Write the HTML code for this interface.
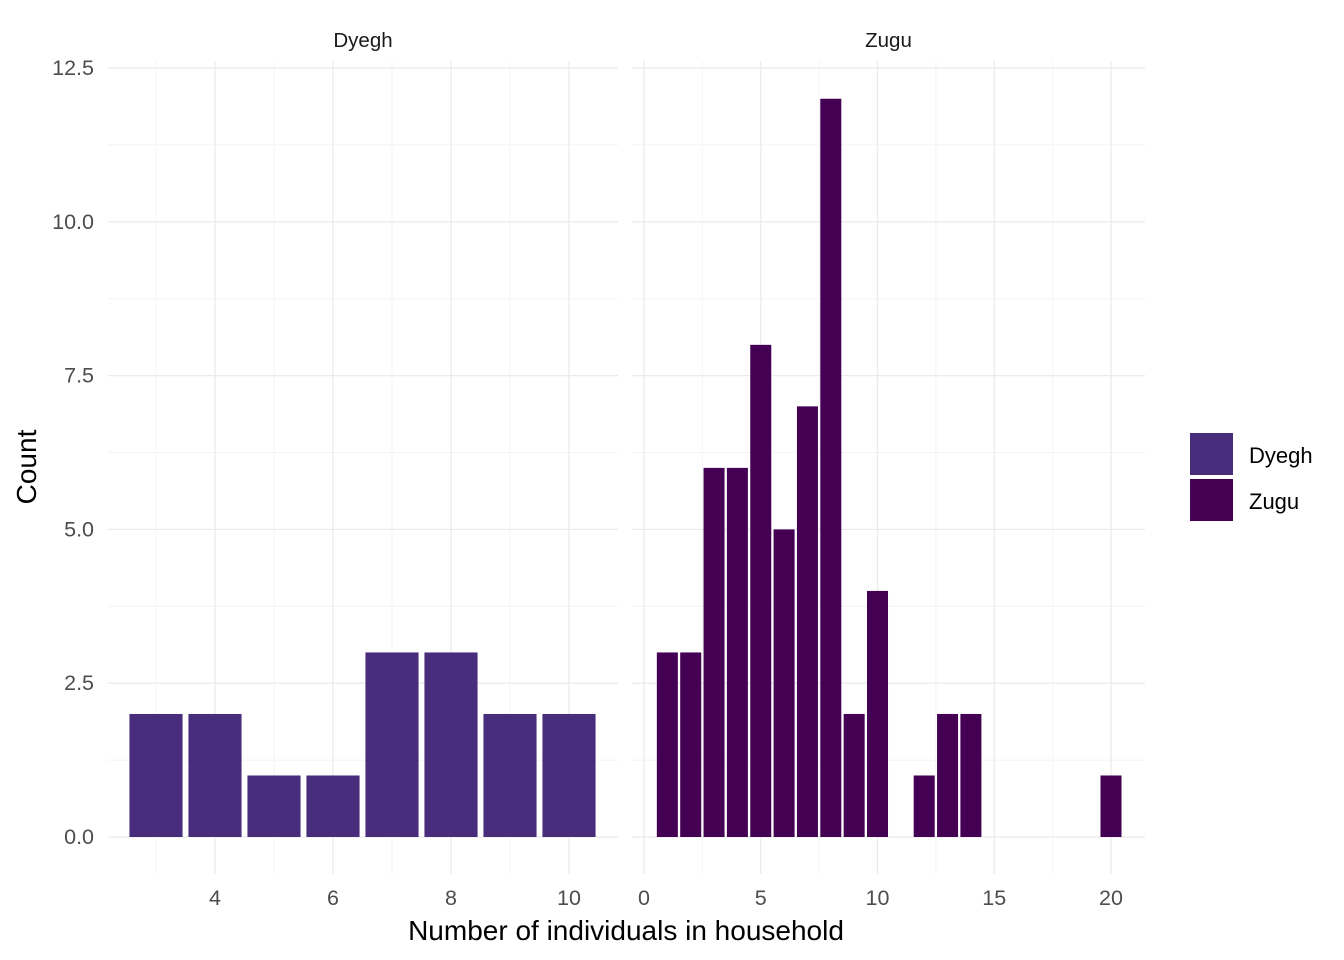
<!DOCTYPE html>
<html><head><meta charset="utf-8"><style>body{margin:0;background:#fff}svg{display:block;font-family:"Liberation Sans",Arial,sans-serif}</style></head>
<body>
<svg id="chart" width="1344" height="960"></svg>
<script>
const dyeghX=[3,4,5,6,7,8,9,10];
const dyeghCount=[2,2,1,1,3,3,2,2];
const zuguX=[1,2,3,4,5,6,7,8,9,10,12,13,14,20];
const zuguCount=[3,3,6,6,8,5,7,12,2,4,1,2,2,1];
const yTicks=[0,2.5,5,7.5,10,12.5];
const yTickLabels=["0.0","2.5","5.0","7.5","10.0","12.5"];
const leftTicks=[4,6,8,10];
const rightTicks=[0,5,10,15,20];
const NS="http://www.w3.org/2000/svg";
const svg=document.getElementById('chart');
function mk(t,a,p){const e=document.createElementNS(NS,t);for(const k in a)e.setAttribute(k,a[k]);(p||svg).appendChild(e);return e;}
const y=v=>837-v*61.52;
const panels=[
 {name:'dyegh',x0:108,x1:618,sx:v=>215+(v-4)*59,unit:59,xs:dyeghX,cs:dyeghCount,ticks:leftTicks,minor:[3,5,7,9],color:'#472D7B',title:'Dyegh'},
 {name:'zugu',x0:632,x1:1145,sx:v=>644+v*23.35,unit:23.35,xs:zuguX,cs:zuguCount,ticks:rightTicks,minor:[2.5,7.5,12.5,17.5],color:'#440154',title:'Zugu'}
];
panels.forEach(p=>{
 const g=mk('g',{});
 
 
 for(let i=0;i<yTicks.length-1;i++){const v=(yTicks[i]+yTicks[i+1])/2;const l=mk('line',{x1:p.x0,x2:p.x1,y1:y(v),y2:y(v),stroke:'#f4f4f4','stroke-width':1},g);}
 p.minor.forEach(v=>{const l=mk('line',{x1:p.sx(v),x2:p.sx(v),y1:61,y2:874,stroke:'#f4f4f4','stroke-width':1},g);});
 yTicks.forEach(v=>{const l=mk('line',{x1:p.x0,x2:p.x1,y1:y(v),y2:y(v),stroke:'#ebebeb','stroke-width':1.3},g);});
 p.ticks.forEach(v=>{const l=mk('line',{x1:p.sx(v),x2:p.sx(v),y1:61,y2:874,stroke:'#ebebeb','stroke-width':1.3},g);
  const t=mk('text',{x:p.sx(v),y:905,'text-anchor':'middle','font-size':21.5,fill:'#4d4d4d'},g);t.textContent=v;});
 p.xs.forEach((xv,i)=>{const w=p.unit*0.9;const r=mk('rect',{x:p.sx(xv)-w/2,y:y(p.cs[i]),width:w,height:y(0)-y(p.cs[i]),fill:p.color},g);});
 const t=mk('text',{x:(p.x0+p.x1)/2,y:47,'text-anchor':'middle','font-size':20.5,fill:'#1a1a1a'},g);t.textContent=p.title;
});
yTicks.forEach((v,i)=>{const t=mk('text',{x:94,y:y(v)+7,'text-anchor':'end','font-size':21.5,fill:'#4d4d4d'});t.textContent=yTickLabels[i];});
let t=mk('text',{x:626,y:940,'text-anchor':'middle','font-size':28,fill:'#000'});t.textContent='Number of individuals in household';
t=mk('text',{x:36,y:467,'text-anchor':'middle','font-size':28,fill:'#000',transform:'rotate(-90 36 467)'});t.textContent='Count';
[['Dyegh','#472D7B',433],['Zugu','#440154',479]].forEach(([n,c,yy])=>{const g=mk('g',{});
 mk('rect',{x:1190,y:yy,width:43,height:42,fill:c},g);const tt=mk('text',{x:1249,y:yy+30,'font-size':22,fill:'#000'},g);tt.textContent=n;});
</script>
</body></html>
